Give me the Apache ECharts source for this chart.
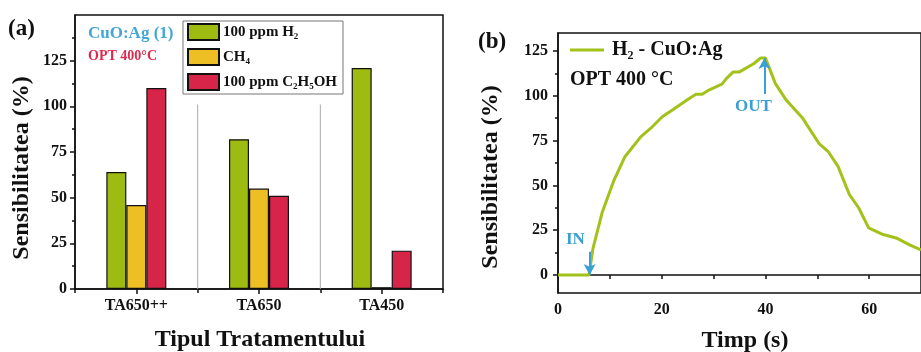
<!DOCTYPE html>
<html>
<head>
<meta charset="utf-8">
<script src="https://cdn.jsdelivr.net/npm/echarts@6/dist/echarts.min.js"></script>
<style>
html,body{margin:0;padding:0;background:#fff;}
#chart{width:921px;height:352px;}
</style>
</head>
<body>
<div id="chart"></div>
<script>
// ---- Panel (a) data ----
const categories = ['TA650++', 'TA650', 'TA450'];
const seriesNames = ['100 ppm H\u2082', 'CH\u2084', '100 ppm C\u2082H\u2085OH'];
const h2Values = [64, 82, 121];
const ch4Values = [46, 55, 1];
const ethanolValues = [110, 51, 21];
const leftYTicks = [0, 25, 50, 75, 100, 125];
const categoryBoundaries = [1, 2];
const separatorTop = 101;

// ---- Panel (b) data ----
const lineName = 'H\u2082 - CuO:Ag';
const timeS = [0, 2, 4, 6, 6.7, 8.5, 10.7, 12.9, 16, 17.9, 20.1, 22.2, 25.3, 26.6, 27.8, 29.1, 31.6, 32.5, 33.8, 35, 37.8, 39.1, 40, 41.9, 44, 47.2, 50.3, 52.1, 54, 56.2, 58, 59.9, 62.7, 65.2, 67.9, 70];
const sensitivity = [0, 0, 0, 0, 14.3, 34.7, 52.2, 66, 77.2, 81.9, 88.3, 92.4, 98.5, 100.8, 100.8, 103.2, 106.5, 109.7, 113.3, 113.3, 118, 121.1, 121.1, 106.9, 97.6, 87.4, 73.5, 68.9, 60.6, 44.8, 37.4, 26.3, 22.6, 20.7, 16.7, 14];
const rightXLabels = [0, 20, 40, 60];
const rightXTicks = [0, 10, 20, 30, 40, 50, 60];
const rightYTicks = [0, 25, 50, 75, 100, 125];
const rightYMinorTicks = [12.5, 37.5, 62.5, 87.5, 112.5];
const inArrow = {t: 6.1, from: 13, to: 0};
const outArrow = {t: 39.8, from: 101, to: 121};

const FONT = "'Liberation Serif', 'Times New Roman', 'DejaVu Serif', serif";
const GREEN = '#9ebb12', YELLOW = '#eebf25', RED = '#d62548', LINE = '#a2c21a', BLUE = '#3a9fd4';

const chart = echarts.init(document.getElementById('chart'), null, {renderer: 'canvas'});

const tickLabel = {fontFamily: FONT, fontWeight: 'bold', fontSize: 16, color: '#111'};
const axisLine = {show: true, lineStyle: {color: '#111', width: 1.5}};

const barStyle = c => ({color: c, borderColor: '#111', borderWidth: 1.2});

const option = {
  animation: false,
  grid: [
    {left: 75, right: 478, top: 15, bottom: 63, show: true, borderColor: '#111', borderWidth: 1.5},
    {left: 558, right: -12, top: 33, bottom: 59, show: true, borderColor: '#111', borderWidth: 1.5}
  ],
  xAxis: [
    {type: 'category', gridIndex: 0, data: categories, boundaryGap: true,
     axisLine: axisLine, axisTick: {show: true, alignWithLabel: true, length: 5, lineStyle: {color: '#111', width: 1.5}},
     axisLabel: Object.assign({margin: 9}, tickLabel), splitLine: {show: false}},
    {type: 'value', gridIndex: 0, min: 0, max: 3, interval: 1, position: 'bottom',
     axisLine: {show: false}, axisTick: {show: true, length: 4, lineStyle: {color: '#111', width: 1.5}},
     axisLabel: {show: false}, splitLine: {show: false}},
    {type: 'value', gridIndex: 1, min: 0, max: 70,
     axisLine: axisLine,
     axisTick: {show: true, length: 4, customValues: rightXTicks, lineStyle: {color: '#111', width: 1.5}},
     axisLabel: Object.assign({margin: 9, customValues: rightXLabels}, tickLabel), splitLine: {show: false}}
  ],
  yAxis: [
    {type: 'value', gridIndex: 0, min: 0, max: 150, interval: 25,
     axisLine: axisLine,
     axisTick: {show: true, length: 5, customValues: leftYTicks, lineStyle: {color: '#111', width: 1.5}},
     minorTick: {show: true, splitNumber: 2, length: 3, lineStyle: {color: '#111', width: 1.5}},
     axisLabel: Object.assign({margin: 8, customValues: leftYTicks}, tickLabel), splitLine: {show: false}},
    {type: 'value', gridIndex: 1, min: -10, max: 135,
     axisLine: axisLine,
     axisTick: {show: true, length: 5, customValues: rightYTicks, lineStyle: {color: '#111', width: 1.5}},
     axisLabel: Object.assign({margin: 10, customValues: rightYTicks}, tickLabel), splitLine: {show: false}},
    {type: 'value', gridIndex: 1, min: -10, max: 135, position: 'left',
     axisLine: {show: false},
     axisTick: {show: true, length: 3, customValues: rightYMinorTicks, lineStyle: {color: '#111', width: 1.5}},
     axisLabel: {show: false}, splitLine: {show: false}}
  ],
  legend: [
    {data: seriesNames, orient: 'vertical', left: 183, top: 21,
     padding: [2, 6, 3, 4], itemGap: 7, itemWidth: 31, itemHeight: 16,
     borderColor: '#777', borderWidth: 1, icon: 'rect',
     textStyle: {fontFamily: FONT, fontWeight: 'bold', fontSize: 15, color: '#111', padding: [0, 0, 0, -1]}},
    {data: [lineName], left: 570, top: 40, padding: 0, itemWidth: 34, itemHeight: 3, icon: 'rect',
     textStyle: {fontFamily: FONT, fontWeight: 'bold', fontSize: 20, color: '#111', padding: [0, 0, 0, 3]}}
  ],
  series: [
    {name: seriesNames[0], type: 'bar', xAxisIndex: 0, yAxisIndex: 0, data: h2Values,
     barWidth: 20, barGap: '0%', itemStyle: barStyle(GREEN)},
    {name: seriesNames[1], type: 'bar', xAxisIndex: 0, yAxisIndex: 0, data: ch4Values,
     barWidth: 20, barGap: '0%', itemStyle: barStyle(YELLOW)},
    {name: seriesNames[2], type: 'bar', xAxisIndex: 0, yAxisIndex: 0, data: ethanolValues,
     barWidth: 20, barGap: '0%', itemStyle: barStyle(RED)}
  ].concat(categoryBoundaries.map(b => ({
    name: 'sep' + b, type: 'line', xAxisIndex: 1, yAxisIndex: 0, symbol: 'none', silent: true,
    data: [[b, 0], [b, separatorTop]], lineStyle: {color: '#aaa', width: 1}, z: 1
  }))).concat([
    {name: lineName, type: 'line', xAxisIndex: 2, yAxisIndex: 1, symbol: 'none',
     data: timeS.map((t, i) => [t, sensitivity[i]]),
     lineStyle: {color: LINE, width: 3}, itemStyle: {color: LINE},
     markLine: {silent: true, symbol: ['none', 'arrow'], symbolSize: [9, 11], label: {show: false},
       lineStyle: {color: BLUE, width: 2, type: 'solid'},
       data: [
         [{coord: [inArrow.t, inArrow.from]}, {coord: [inArrow.t, inArrow.to]}],
         [{coord: [outArrow.t, outArrow.from]}, {coord: [outArrow.t, outArrow.to]}]
       ]}}
  ]),
  graphic: [
    {type: 'text', left: 8, top: 18, style: {text: '(a)', font: 'bold 23px ' + FONT, fill: '#111'}},
    {type: 'text', left: 478, top: 31, style: {text: '(b)', font: 'bold 23px ' + FONT, fill: '#111'}},
    {type: 'text', left: 88, top: 25, style: {text: 'CuO:Ag (1)', font: 'bold 17px ' + FONT, fill: '#45a6d6'}},
    {type: 'text', left: 88, top: 49, style: {text: 'OPT 400\u00B0C', font: 'bold 14px ' + FONT, fill: '#dc2c4c'}},
    {type: 'text', left: 570, top: 70, style: {text: 'OPT 400 \u00B0C', font: 'bold 20px ' + FONT, fill: '#111'}},
    {type: 'text', left: 566, top: 231, style: {text: 'IN', font: 'bold 17px ' + FONT, fill: BLUE}},
    {type: 'text', left: 735, top: 98, style: {text: 'OUT', font: 'bold 17px ' + FONT, fill: BLUE}},
    {type: 'text', x: 22, y: 168, rotation: Math.PI / 2,
     style: {text: 'Sensibilitatea (%)', font: 'bold 24px ' + FONT, fill: '#111', align: 'center', verticalAlign: 'middle'}},
    {type: 'text', x: 491, y: 177, rotation: Math.PI / 2,
     style: {text: 'Sensibilitatea (%)', font: 'bold 24px ' + FONT, fill: '#111', align: 'center', verticalAlign: 'middle'}},
    {type: 'text', x: 260, y: 340,
     style: {text: 'Tipul Tratamentului', font: 'bold 24px ' + FONT, fill: '#111', align: 'center', verticalAlign: 'middle'}},
    {type: 'text', x: 745, y: 341,
     style: {text: 'Timp (s)', font: 'bold 24px ' + FONT, fill: '#111', align: 'center', verticalAlign: 'middle'}}
  ]
};
chart.setOption(option);
</script>
</body>
</html>
